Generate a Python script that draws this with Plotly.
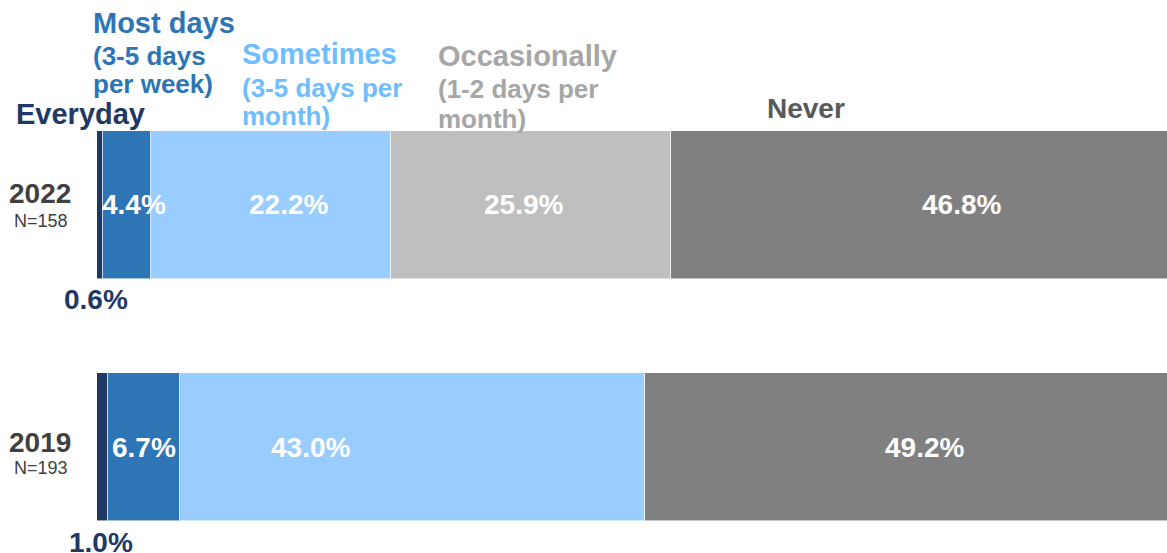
import plotly.graph_objects as go

# Survey results: how often respondents do the activity, by survey year
years = ["2022", "2019"]
sample_sizes = ["N=158", "N=193"]
series_names = ["Everyday", "Most days", "Sometimes", "Occasionally", "Never"]
everyday = [0.6, 1.0]
most_days = [4.4, 6.7]
sometimes = [22.2, 43.0]
occasionally = [25.9, None]
never = [46.8, 49.2]

series_values = [everyday, most_days, sometimes, occasionally, never]

bar_colors = ["#1F3864", "#2E75B6", "#99CCFF", "#BFBFBF", "#808080"]
header_colors = ["#1F3864", "#2E75B6", "#6EBEFF", "#A6A6A6", "#595959"]

W, H = 1167, 553
FONT = "Liberation Sans, Arial, sans-serif"
category_order = ["2019", "2022"]

fig = go.Figure()
for name, vals, col in zip(series_names, series_values, bar_colors):
    fig.add_trace(go.Bar(
        y=years, x=vals, name=name, orientation="h",
        marker=dict(color=col, line=dict(color="rgba(255,255,255,0.55)", width=1)),
        width=0.612, hoverinfo="skip", showlegend=False,
    ))


def px(x):
    return x / W


def py(y):
    return 1 - y / H


annotations = []

# Value labels on the bars (pixel nudges per year/series)
label_nudge_px = {
    "2022": [-4, 7, 17, -8, 38],
    "2019": [-1, 0, -102, 0, 13],
}
for yi, yr in enumerate(years):
    ypos = category_order.index(yr)
    start = 0.0
    for si, vals in enumerate(series_values):
        v = vals[yi]
        if v is None:
            continue
        center = start + v / 2
        if si == 0:
            # thin first segment: label sits below the bar
            annotations.append(dict(
                x=center, y=ypos, xref="x", yref="y", text=f"{v:.1f}%",
                showarrow=False, xshift=label_nudge_px[yr][si], yshift=-95,
                font=dict(family=FONT, size=28, color="#1F3864", weight="bold"),
            ))
        else:
            annotations.append(dict(
                x=center, y=ypos, xref="x", yref="y", text=f"{v:.1f}%",
                showarrow=False, xshift=label_nudge_px[yr][si],
                font=dict(family=FONT, size=28, color="white", weight="bold"),
            ))
        start += v

# Series headers above the top bar: (series index, text, size, left x, baseline y)
header_lines = [
    (0, "Everyday", 29, 16, 124),
    (1, "Most days", 29, 93, 33),
    (1, "(3-5 days", 26, 93, 65),
    (1, "per week)", 26, 93, 93),
    (2, "Sometimes", 29, 242, 64),
    (2, "(3-5 days per", 26, 242, 97),
    (2, "month)", 26, 242, 125),
    (3, "Occasionally", 29, 438, 66),
    (3, "(1-2 days per", 26, 438, 98),
    (3, "month)", 26, 438, 128),
    (4, "Never", 28, 767, 118),
]
for si, text, size, x0, base in header_lines:
    annotations.append(dict(
        x=px(x0 - 2), y=py(base - 0.35 * size), xref="paper", yref="paper",
        xanchor="left", yanchor="middle", text=text, showarrow=False,
        font=dict(family=FONT, size=size, color=header_colors[si], weight="bold"),
    ))

# Year and sample size labels to the left of each bar
year_label_pos = {"2022": (40, 193, 220.5), "2019": (40, 442, 467.5)}
for yr, n in zip(years, sample_sizes):
    cx, y_year, y_n = year_label_pos[yr]
    annotations.append(dict(
        x=px(cx), y=py(y_year), xref="paper", yref="paper", text=yr,
        showarrow=False, xanchor="center", yanchor="middle",
        font=dict(family=FONT, size=28, color="#404040", weight="bold"),
    ))
    annotations.append(dict(
        x=px(cx + 1), y=py(y_n), xref="paper", yref="paper", text=n,
        showarrow=False, xanchor="center", yanchor="middle",
        font=dict(family=FONT, size=18, color="#404040"),
    ))

fig.update_layout(
    width=W, height=H, barmode="stack",
    margin=dict(l=0, r=0, t=0, b=0),
    paper_bgcolor="white", plot_bgcolor="white",
    xaxis=dict(range=[-8.973, 98.98], visible=False, fixedrange=True),
    yaxis=dict(type="category", categoryorder="array", categoryarray=category_order,
               range=[-0.438, 1.847], visible=False, fixedrange=True),
    annotations=annotations,
    bargap=0,
)

fig.write_html("out.html", config={"displayModeBar": False})
